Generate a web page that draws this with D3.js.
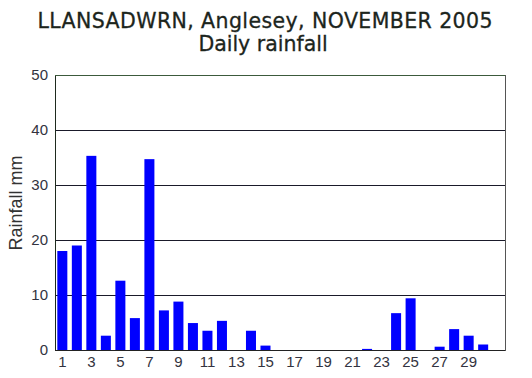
<!DOCTYPE html>
<html>
<head>
<meta charset="utf-8">
<script src="https://cdn.jsdelivr.net/npm/d3@7"></script>
<style>
  body { margin: 0; background: #fff; }
  svg { display: block; }
</style>
</head>
<body>
<div id="chart"></div>
<script>
// daily rainfall, mm (November has 30 days, chart keeps 31 slots)
var days = d3.range(1, 32)
var rainfall = [18.0, 19.0, 35.3, 2.6, 12.6, 5.8, 34.7, 7.2, 8.8, 4.9,
                3.5, 5.3, 0, 3.5, 0.8, 0, 0, 0, 0, 0,
                0, 0.2, 0, 6.7, 9.4, 0, 0.6, 3.8, 2.6, 1.0]
var yTicks = [0, 10, 20, 30, 40, 50]
var xTicks = [1, 3, 5, 7, 9, 11, 13, 15, 17, 19, 21, 23, 25, 27, 29]

var data = rainfall.map(function(v, i) { return {day: days[i], mm: v} })

var width = 532, height = 378
var margin = {top: 75, right: 27, bottom: 28, left: 55}

var svg = d3.select('#chart')
    .append('svg')
        .attr('width', width)
        .attr('height', height)

var x = d3.scaleBand()
    .domain(days)
    .range([margin.left, width - margin.right])
    .paddingInner(0.31)
    .paddingOuter(0.16)

var y = d3.scaleLinear()
    .domain([0, 50])
    .range([height - margin.bottom, margin.top])

// title
svg.append('text')
    .attr('x', 265)
    .attr('y', 28)
    .attr('text-anchor', 'middle')
    .attr('textLength', 455)
    .style('font-family', 'DejaVu Sans, Verdana, sans-serif')
    .style('font-size', '20.5px')
    .style('fill', '#1c251c')
    .style('stroke', '#1c251c')
    .style('stroke-width', 0.3)
    .text('LLANSADWRN, Anglesey, NOVEMBER 2005')

svg.append('text')
    .attr('x', 263)
    .attr('y', 51)
    .attr('text-anchor', 'middle')
    .style('font-family', 'DejaVu Sans, Verdana, sans-serif')
    .style('font-size', '20.5px')
    .style('fill', '#1c251c')
    .style('stroke', '#1c251c')
    .style('stroke-width', 0.3)
    .text('Daily rainfall')

// gridlines
svg.append('g')
    .selectAll('line')
    .data(yTicks.filter(function(d) { return d > 0 && d < 50 }))
    .enter()
    .append('line')
        .attr('x1', margin.left)
        .attr('x2', width - margin.right)
        .attr('y1', function(d) { return y(d) + 0.5 })
        .attr('y2', function(d) { return y(d) + 0.5 })
        .style('stroke', '#1a1a2a')
        .style('stroke-width', 1)

// bars
svg.append('g')
    .selectAll('rect')
    .data(data.filter(function(d) { return d.mm > 0 }))
    .enter()
    .append('rect')
        .attr('x', function(d) { return x(d.day) })
        .attr('y', function(d) { return y(d.mm) })
        .attr('width', x.bandwidth())
        .attr('height', function(d) { return y(0) - y(d.mm) })
        .style('fill', '#0000ff')

// frame
var frame = svg.append('g').style('fill', 'none')
frame.append('line')
    .attr('x1', margin.left + 0.5).attr('x2', margin.left + 0.5)
    .attr('y1', y(50)).attr('y2', y(0) + 1)
    .style('stroke', '#1e2a1e')
frame.append('line')
    .attr('x1', margin.left).attr('x2', width - margin.right)
    .attr('y1', y(0) + 0.5).attr('y2', y(0) + 0.5)
    .style('stroke', '#222')
frame.append('line')
    .attr('x1', margin.left).attr('x2', width - margin.right)
    .attr('y1', y(50) + 0.5).attr('y2', y(50) + 0.5)
    .style('stroke', '#3c5a3c')
frame.append('line')
    .attr('x1', width - margin.right + 0.5).attr('x2', width - margin.right + 0.5)
    .attr('y1', y(50)).attr('y2', y(0) + 1)
    .style('stroke', '#555')

// y axis labels
var yAxis = d3.axisLeft(y).tickValues(yTicks).tickSize(0).tickPadding(7)
var gy = svg.append('g')
    .attr('transform', 'translate(' + margin.left + ',0)')
    .call(yAxis)
gy.select('.domain').remove()
gy.selectAll('text')
    .style('font-family', 'Liberation Sans, Arial, sans-serif')
    .style('font-size', '15px')
    .style('fill', '#333340')

// x axis labels
var xAxis = d3.axisBottom(x).tickValues(xTicks).tickSize(0).tickPadding(6)
var gx = svg.append('g')
    .attr('transform', 'translate(0,' + y(0) + ')')
    .call(xAxis)
gx.select('.domain').remove()
gx.selectAll('text')
    .style('font-family', 'Liberation Sans, Arial, sans-serif')
    .style('font-size', '15px')
    .style('fill', '#333340')

// y axis title
svg.append('text')
    .attr('transform', 'translate(22,203) rotate(-90)')
    .attr('text-anchor', 'middle')
    .style('font-family', 'Liberation Sans, Arial, sans-serif')
    .style('font-size', '18px')
    .style('fill', '#333')
    .text('Rainfall mm')
</script>
</body>
</html>
